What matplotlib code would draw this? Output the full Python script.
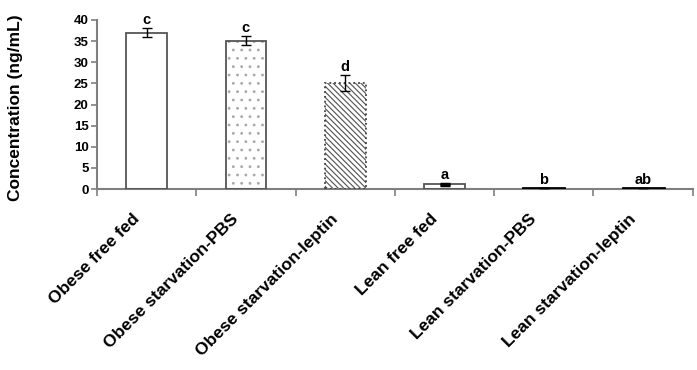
import matplotlib
matplotlib.use('Agg')
import matplotlib.pyplot as plt
import matplotlib.transforms as mtransforms
import numpy as np

plt.rcParams['font.family'] = ['Liberation Sans', 'DejaVu Sans']
plt.rcParams['hatch.linewidth'] = 0.8

groups = ['Obese free fed', 'Obese starvation-PBS', 'Obese starvation-leptin',
          'Lean free fed', 'Lean starvation-PBS', 'Lean starvation-leptin']
means = [37.0, 35.1, 25.1, 1.1, 0.2, 0.2]
sems = [1.0, 1.0, 1.9, 0.15, 0.05, 0.05]
letters = ['c', 'c', 'd', 'a', 'b', 'ab']

axis_grey = '#7f7f7f'

fig = plt.figure(figsize=(6.97, 3.70), dpi=100)
ax = fig.add_axes([0.139, 0.489, 0.855, 0.457])

x = np.arange(len(groups))
hatches = ['', '..', '\\\\\\\\\\\\', '', '', '']
hatch_cols = ['#404040', '#a8a8a8', '#505050', '#404040', '#000000', '#000000']
edge_cols = ['#555555', '#555555', '#404040', '#555555', '#000000', '#000000']
edge_ls = ['-', '-', ':', '-', '-', '-']

for i in range(len(groups)):
    ax.bar(x[i], means[i], width=0.41, color='white', edgecolor=hatch_cols[i],
           hatch=hatches[i], linewidth=0, zorder=2)
    ax.bar(x[i], means[i], width=0.41, fill=False, edgecolor=edge_cols[i],
           linewidth=1.3 if i < 4 else 2.0, linestyle=edge_ls[i], zorder=3)
    ax.errorbar(x[i], means[i], yerr=sems[i], fmt='none', ecolor='black',
                elinewidth=1.0, capsize=3.5, capthick=1.0 if i != 3 else 2.5,
                zorder=4)
    ax.annotate(letters[i], (x[i], means[i] + sems[i]), xytext=(0, 1),
                textcoords='offset points', ha='center', va='bottom',
                fontsize=10.5, fontweight='bold')

ax.set_xlim(-0.5, 5.5)
ax.set_ylim(0, 40)
ax.set_yticks(np.arange(0, 41, 5))
ax.set_xticks(np.arange(-0.5, 6, 1))
ax.set_xticklabels([])
ax.set_xticks(x, minor=True)
ax.set_xticklabels(groups, minor=True, rotation=45, ha='right',
                   rotation_mode='anchor', fontsize=12.5, fontweight='bold')
ax.tick_params(axis='x', which='minor', length=0, pad=16)
ax.tick_params(axis='x', which='major', length=5, width=1.2, color=axis_grey)
ax.tick_params(axis='y', length=4, width=1.2, color=axis_grey, pad=2,
               labelsize=9.5)
for lab in ax.get_yticklabels():
    lab.set_fontweight('bold')

shift = mtransforms.ScaledTranslation(-15 / 100, 0, fig.dpi_scale_trans)
for lab in ax.xaxis.get_minorticklabels():
    lab.set_transform(lab.get_transform() + shift)

for side in ['top', 'right']:
    ax.spines[side].set_visible(False)
for side in ['left', 'bottom']:
    ax.spines[side].set_color(axis_grey)
    ax.spines[side].set_linewidth(1.5)

ax.set_ylabel('Concentration (ng/mL)', fontsize=12.5, fontweight='bold')
ax.yaxis.set_label_coords(-0.124, 0.48)

fig.savefig('out.png', dpi=100)
